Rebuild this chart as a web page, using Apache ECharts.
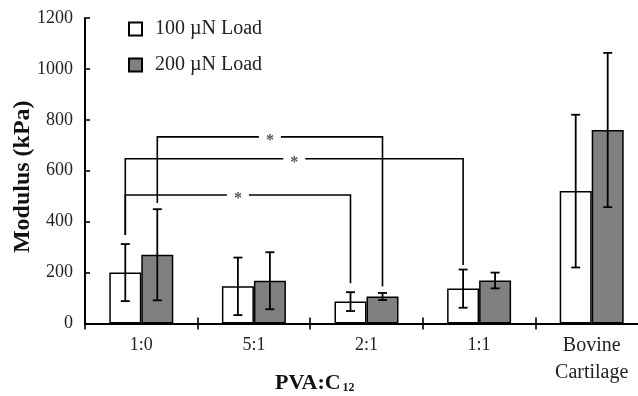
<!DOCTYPE html>
<html>
<head>
<meta charset="utf-8">
<script src="https://cdn.jsdelivr.net/npm/echarts@6/dist/echarts.min.js"></script>
<style>html,body{margin:0;padding:0;background:#fff;}#c{width:638px;height:396px;}</style>
</head>
<body>
<div id="c"></div>
<script>
const categories = ['1:0', '5:1', '2:1', '1:1', 'Bovine\nCartilage'];
const yTicks = [0, 200, 400, 600, 800, 1000, 1200];
const load100 = [200, 146, 86, 137, 520];
const load100Err = [112, 113, 37, 75, 300];
const load200 = [270, 168, 106, 169, 760];
const load200Err = [179, 112, 14, 31, 303];
// [fromCategory, fromSeries, toCategory, toSeries, level, fromBottom, toBottom]
const brackets = [
  [0, 0, 2, 0, 505, 348, 158],
  [0, 1, 2, 1, 733, 473, 145],
  [0, 0, 3, 0, 647, 348, 230]
];

const BAR_W = 32;
const FONT = '"Liberation Serif", "DejaVu Serif", serif';

function errData(vals, errs) {
  return vals.map((v, i) => [i, v - errs[i], v + errs[i]]);
}

function errRender(sign) {
  return function (params, api) {
    const i = api.value(0);
    const lo = api.coord([i, api.value(1)]);
    const hi = api.coord([i, api.value(2)]);
    const x = lo[0] + sign * BAR_W / 2;
    const cap = 4.5;
    const st = { stroke: '#000', lineWidth: 1.8 };
    return {
      type: 'group',
      children: [
        { type: 'line', shape: { x1: x, y1: lo[1], x2: x, y2: hi[1] }, style: st },
        { type: 'line', shape: { x1: x - cap, y1: lo[1], x2: x + cap, y2: lo[1] }, style: st },
        { type: 'line', shape: { x1: x - cap, y1: hi[1], x2: x + cap, y2: hi[1] }, style: st }
      ]
    };
  };
}

function bracketRender(params, api) {
  const c1 = api.value(0), s1 = api.value(1), c2 = api.value(2), s2 = api.value(3);
  const lvl = api.value(4), b1 = api.value(5), b2 = api.value(6);
  const p1 = api.coord([c1, lvl]);
  const p2 = api.coord([c2, lvl]);
  const x1 = p1[0] + (s1 ? 1 : -1) * BAR_W / 2;
  const x2 = p2[0] + (s2 ? 1 : -1) * BAR_W / 2;
  const y = p1[1];
  const yb1 = api.coord([c1, b1])[1];
  const yb2 = api.coord([c2, b2])[1];
  const mid = (x1 + x2) / 2;
  const gap = 11;
  const st = { stroke: '#000', lineWidth: 1.6, fill: null };
  return {
    type: 'group',
    children: [
      { type: 'polyline', shape: { points: [[x1, yb1], [x1, y], [mid - gap, y]] }, style: st },
      { type: 'polyline', shape: { points: [[mid + gap, y], [x2, y], [x2, yb2]] }, style: st },
      { type: 'text', x: mid, y: y + 4, style: { text: '*', fill: '#555', font: 'bold 16px ' + FONT, textAlign: 'center', textVerticalAlign: 'middle' } }
    ]
  };
}

const chart = echarts.init(document.getElementById('c'), null, { renderer: 'canvas' });
chart.setOption({
  animation: false,
  backgroundColor: '#fff',
  grid: { left: 85, right: -10, top: 18, bottom: 72.5, containLabel: false, outerBoundsMode: 'none' },
  legend: {
    orient: 'vertical',
    left: 128,
    top: 19,
    padding: 0,
    itemWidth: 13,
    itemHeight: 13,
    itemGap: 16,
    icon: 'rect',
    textStyle: { fontFamily: FONT, fontSize: 20, color: '#222', padding: [0, 0, 0, 8] },
    data: ['100 µN Load', '200 µN Load']
  },
  xAxis: [
    {
      type: 'category',
      data: categories,
      boundaryGap: true,
      axisLine: { lineStyle: { color: '#000', width: 2 } },
      axisTick: { show: true, inside: false, length: 6, interval: 0, lineStyle: { color: '#000', width: 1.6 } },
      axisLabel: {
        interval: 0,
        margin: 13,
        fontFamily: FONT,
        fontSize: 18,
        color: '#222',
        hideOverlap: false,
        formatter: function (v) {
          if (v.indexOf('Bovine') >= 0) {
            const parts = v.split('\n');
            return '{b1|' + parts[0] + '}\n{b2|' + parts[1] + '}';
          }
          return v;
        },
        rich: {
          b1: { fontFamily: FONT, fontSize: 20, lineHeight: 18, color: '#222' },
          b2: { fontFamily: FONT, fontSize: 20, lineHeight: 36, color: '#222' }
        }
      }
    },
    {
      type: 'category',
      data: categories,
      position: 'bottom',
      boundaryGap: true,
      axisLine: { show: false },
      axisTick: { show: true, inside: true, length: 6, interval: 0, lineStyle: { color: '#000', width: 1.6 } },
      axisLabel: { show: false }
    }
  ],
  yAxis: {
    type: 'value',
    min: yTicks[0],
    max: yTicks[yTicks.length - 1],
    interval: 200,
    name: 'Modulus (kPa)',
    nameLocation: 'middle',
    nameGap: 50,
    nameMoveOverlap: false,
    nameTextStyle: { fontFamily: FONT, fontSize: 24, fontWeight: 'bold', color: '#111', padding: [0, 12, 0, 0] },
    axisLine: { show: true, lineStyle: { color: '#000', width: 2 } },
    axisTick: { show: true, inside: true, length: 5, lineStyle: { color: '#000', width: 1.6 } },
    splitLine: { show: false },
    axisLabel: { margin: 12, fontFamily: FONT, fontSize: 18, color: '#222', formatter: function (v) { return String(v); } }
  },
  graphic: [
    {
      type: 'text',
      left: 275,
      top: 372,
      style: {
        text: '{m|PVA:C}{sub|12}',
        rich: {
          m: { fontFamily: FONT, fontSize: 22, fontWeight: 'bold', fill: '#111' },
          sub: { fontFamily: FONT, fontSize: 12, fontWeight: 'bold', fill: '#111', padding: [10, 0, 0, 2] }
        }
      }
    }
  ],
  series: [
    {
      name: '100 µN Load',
      type: 'bar',
      data: load100,
      barWidth: BAR_W,
      barGap: '0%',
      itemStyle: { color: '#ffffff', borderColor: '#000', borderWidth: 1.5 }
    },
    {
      name: '200 µN Load',
      type: 'bar',
      data: load200,
      barWidth: BAR_W,
      barGap: '0%',
      itemStyle: { color: '#808080', borderColor: '#000', borderWidth: 1.5 }
    },
    {
      type: 'custom',
      renderItem: errRender(-1),
      data: errData(load100, load100Err),
      encode: { x: 0, y: [1, 2] },
      z: 5
    },
    {
      type: 'custom',
      renderItem: errRender(1),
      data: errData(load200, load200Err),
      encode: { x: 0, y: [1, 2] },
      z: 5
    },
    {
      type: 'custom',
      renderItem: bracketRender,
      data: brackets,
      encode: { x: 0, y: 4 },
      clip: false,
      z: 6
    }
  ]
});
</script>
</body>
</html>
